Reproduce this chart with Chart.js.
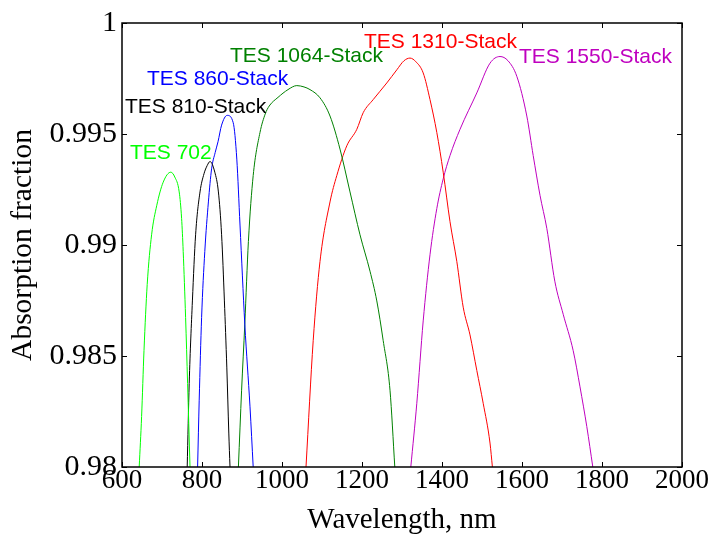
<!DOCTYPE html>
<html>
<head>
<meta charset="utf-8">
<script src="https://cdn.jsdelivr.net/npm/chart.js@4/dist/chart.umd.min.js"></script>
<style>
html,body{margin:0;padding:0;background:#fff;}
#wrap{width:710px;height:538px;position:relative;}
</style>
</head>
<body>
<div id="wrap"><canvas id="c" width="710" height="538"></canvas></div>
<script>
// ---- data ----
const seriesNames = ["TES 702", "TES 810-Stack", "TES 860-Stack", "TES 1064-Stack", "TES 1310-Stack", "TES 1550-Stack"];

const wl702  = [643, 649, 655, 663, 674, 687, 703, 722, 732, 743, 749, 753, 759, 764, 770];
const abs702 = [0.980, 0.98227, 0.98525, 0.98822, 0.99046, 0.99179, 0.99283, 0.99328, 0.99306, 0.99239, 0.9912, 0.98971, 0.98673, 0.98376, 0.980];

const wl810  = [763, 768, 776, 784, 795, 805, 813, 820, 832, 841, 849, 856, 862, 867, 870];
const abs810 = [0.980, 0.98376, 0.98748, 0.99046, 0.99239, 0.99321, 0.99358, 0.99376, 0.99328, 0.99239, 0.99046, 0.98748, 0.9845, 0.98153, 0.980];

const wl860  = [789, 793, 799, 807, 816, 824, 833, 840, 849, 863, 878, 887, 895, 907, 920, 928];
const abs860 = [0.980, 0.98301, 0.98673, 0.98971, 0.99194, 0.99343, 0.99417, 0.99465, 0.99540, 0.99584, 0.99551, 0.99387, 0.9909, 0.98644, 0.98271, 0.980];

const wl1064  = [891, 899, 907, 916, 928, 945, 958, 968, 990, 1015, 1037, 1055, 1070, 1095, 1120, 1145, 1170, 1195, 1220, 1237, 1253, 1270, 1282];
const abs1064 = [0.980, 0.98346, 0.98644, 0.99016, 0.99313, 0.99507, 0.9959, 0.99626, 0.99665, 0.99700, 0.99718, 0.99712, 0.997, 0.99663, 0.99581, 0.99432, 0.99239, 0.99046, 0.98882, 0.98748, 0.98569, 0.98346, 0.980];

const wl1310  = [1060, 1078, 1095, 1120, 1137, 1162, 1187, 1203, 1228, 1262, 1287, 1305, 1320, 1335, 1353, 1370, 1387, 1403, 1420, 1437, 1453, 1470, 1487, 1503, 1520, 1526];
const abs1310 = [0.980, 0.98569, 0.98926, 0.99194, 0.99313, 0.99447, 0.99521, 0.99596, 0.99655, 0.9973, 0.99789, 0.9983, 0.99842, 0.99825, 0.99775, 0.99655, 0.99507, 0.99328, 0.99105, 0.98926, 0.98720, 0.98595, 0.98435, 0.98287, 0.98108, 0.980];

const wl1550  = [1322, 1337, 1353, 1370, 1387, 1403, 1420, 1445, 1487, 1520, 1545, 1565, 1587, 1612, 1628, 1645, 1662, 1682, 1703, 1728, 1745, 1762, 1777];
const abs1550 = [0.980, 0.98287, 0.98658, 0.98956, 0.99164, 0.99298, 0.99403, 0.99521, 0.99685, 0.99819, 0.99849, 0.9983, 0.9976, 0.99581, 0.99403, 0.99224, 0.99075, 0.98837, 0.98688, 0.98524, 0.98361, 0.98182, 0.980];

// label anchors (data units: wavelength, absorption)
const labelWl  = [620, 607.5, 662.5, 870, 1205, 1592.5];
const labelAbs = [0.99386, 0.99596, 0.99721, 0.99824, 0.99886, 0.99819];

const xTicks = [600, 800, 1000, 1200, 1400, 1600, 1800, 2000];
const xTickLabels = ["600", "800", "1000", "1200", "1400", "1600", "1800", "2000"];
const yTicks = [0.98, 0.985, 0.99, 0.995, 1];
const yTickLabels = ["0.98", "0.985", "0.99", "0.995", "1"];

const colors = ["#00ff00", "#000000", "#0000ff", "#008000", "#ff0000", "#bf00bf"];

// ---- build ----
const allWl = [wl702, wl810, wl860, wl1064, wl1310, wl1550];
const allAbs = [abs702, abs810, abs860, abs1064, abs1310, abs1550];

const datasets = seriesNames.map((name, i) => ({
  label: name,
  data: allWl[i].map((w, k) => ({x: w, y: allAbs[i][k]})),
  borderColor: colors[i],
  backgroundColor: colors[i],
  borderWidth: 1,
  pointRadius: 0,
  fill: false,
  showLine: true,
  cubicInterpolationMode: 'monotone'
}));

const serif = '"Liberation Serif", "Times New Roman", serif';

const boxPlugin = {
  id: 'boxTicks',
  afterDatasetsDraw(chart) {
    const ctx = chart.ctx;
    const a = chart.chartArea;
    const xs = chart.scales.x, ys = chart.scales.y;
    ctx.save();
    ctx.strokeStyle = '#000';
    ctx.lineWidth = 1.5;
    ctx.strokeRect(a.left, a.top, a.right - a.left, a.bottom - a.top);
    ctx.lineWidth = 1;
    const L = 5;
    xTicks.forEach(v => {
      const px = Math.round(xs.getPixelForValue(v)) + 0.5;
      ctx.beginPath();
      ctx.moveTo(px, a.bottom); ctx.lineTo(px, a.bottom - L);
      ctx.moveTo(px, a.top); ctx.lineTo(px, a.top + L);
      ctx.stroke();
    });
    yTicks.forEach(v => {
      const py = Math.round(ys.getPixelForValue(v)) + 0.5;
      ctx.beginPath();
      ctx.moveTo(a.left, py); ctx.lineTo(a.left + L, py);
      ctx.moveTo(a.right, py); ctx.lineTo(a.right - L, py);
      ctx.stroke();
    });
    // series labels
    ctx.font = '21px "Liberation Sans", Arial, sans-serif';
    ctx.textAlign = 'left';
    ctx.textBaseline = 'alphabetic';
    seriesNames.forEach((name, i) => {
      ctx.fillStyle = colors[i];
      ctx.fillText(name, xs.getPixelForValue(labelWl[i]), ys.getPixelForValue(labelAbs[i]));
    });
    ctx.restore();
  }
};

new Chart(document.getElementById('c'), {
  type: 'scatter',
  data: { datasets },
  plugins: [boxPlugin],
  options: {
    responsive: false,
    animation: false,
    devicePixelRatio: 1,
    layout: { padding: { top: 19, right: 28, bottom: 0, left: 0 } },
    plugins: { legend: { display: false }, tooltip: { enabled: false } },
    scales: {
      x: {
        type: 'linear', min: 600, max: 2000,
        afterBuildTicks(s) { s.ticks = xTicks.map(v => ({value: v})); },
        afterFit(s) { s.height = 71; },
        grid: { display: false, drawTicks: false },
        border: { display: false },
        ticks: { color: '#000', padding: -2, maxRotation: 0, autoSkip: false,
                 callback: (v) => { const i = xTicks.indexOf(v); return i >= 0 ? xTickLabels[i] : ''; },
                 font: { family: serif, size: 27 } },
        title: { display: true, text: 'Wavelength, nm', color: '#000',
                 font: { family: serif, size: 29, lineHeight: 1.2 },
                 padding: { top: 0, bottom: 0 } }
      },
      y: {
        type: 'linear', min: 0.98, max: 1,
        afterBuildTicks(s) { s.ticks = yTicks.map(v => ({value: v})); },
        afterFit(s) { s.width = 122; },
        grid: { display: false, drawTicks: false },
        border: { display: false },
        ticks: { color: '#000', padding: 5, autoSkip: false,
                 callback: (v) => { const i = yTicks.findIndex(t => Math.abs(t - v) < 1e-9); return i >= 0 ? yTickLabels[i] : ''; },
                 font: { family: serif, size: 30 } },
        title: { display: true, text: 'Absorption fraction', color: '#000',
                 font: { family: serif, size: 29.5, lineHeight: 1.2 },
                 padding: { top: 6, bottom: 0 } }
      }
    }
  }
});
</script>
</body>
</html>
